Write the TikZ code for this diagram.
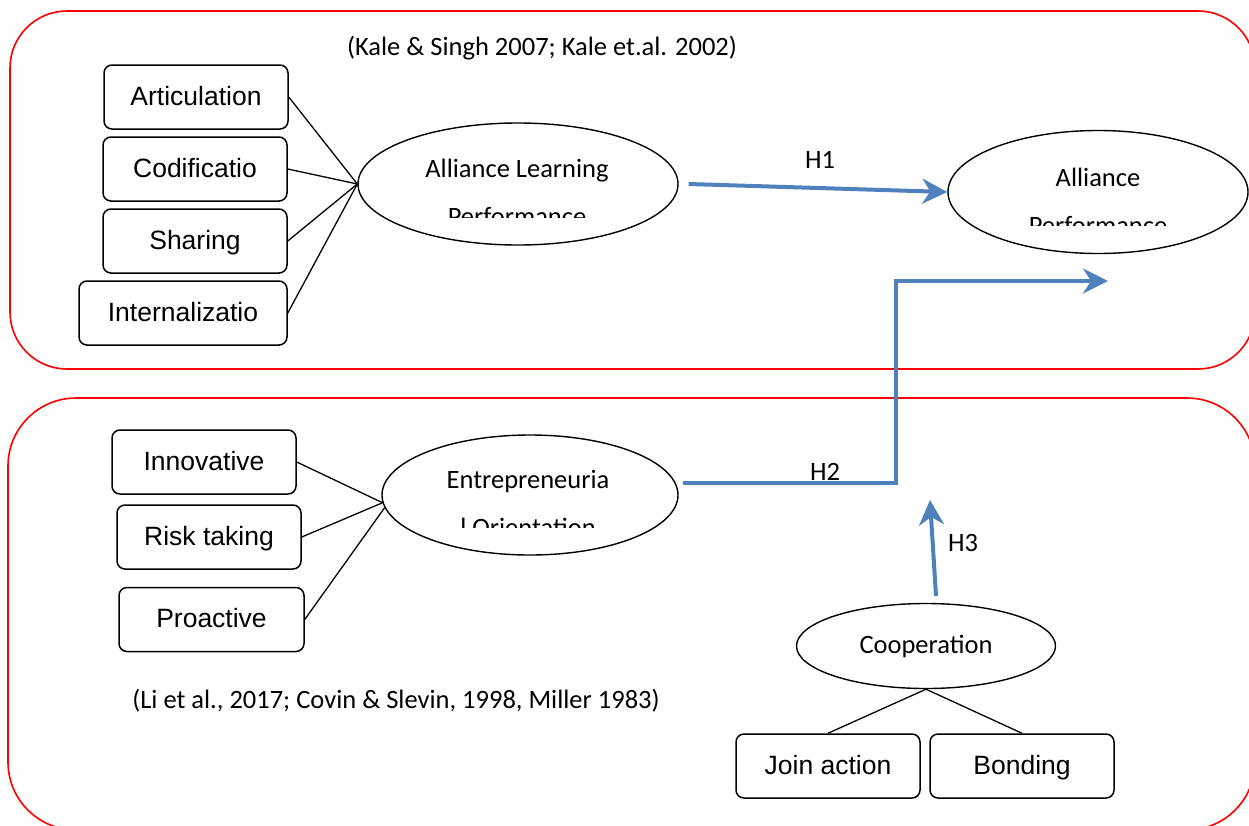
\documentclass[tikz,border=0pt]{standalone}
\usepackage{fontspec}
\setmainfont{Carlito}
\newfontfamily\arialfont{Liberation Sans}
\usetikzlibrary{shapes.geometric,arrows.meta,positioning}
\definecolor{hblue}{HTML}{4F81BD}

\begin{document}
\begin{tikzpicture}[x=1pt, y=-1pt,
  every node/.style={font=\fontsize{26.5}{32}\selectfont},
  frame/.style={draw=red, line width=1.6pt},
  indic/.style={draw, line width=1.5pt, rounded corners=8pt, inner sep=0pt, minimum width=184pt, minimum height=64pt, text height=19pt, text depth=3pt, font=\arialfont\fontsize{26.5}{30}\selectfont},
  latent/.style={draw, ellipse, line width=1.4pt, inner sep=0pt},
  link/.style={line width=1.3pt},
  hyp/.style={draw=hblue, line width=4pt, -{Stealth[length=25pt,width=25pt,inset=8pt]}}]
\useasboundingbox (0,0) rectangle (1249,825);
\draw[frame, rounded corners=57pt] (10,11) rectangle (1255,369);
\draw[frame, rounded corners=68pt] (8,398) rectangle (1255,830);
\coordinate (h2k) at (896,281);
\coordinate (h2e) at (1108,281);
\coordinate (h3s) at (936,596);
\coordinate (h3e) at (930,500);
\node[indic] (art) at (196,97) {Articulation};
\node[indic] (cod) at (195,169) {Codificatio};
\node[indic] (sha) at (195,241) {Sharing};
\node[indic, minimum width=208pt] (int) at (183,313) {Internalizatio};
\node[indic] (inn) at (204,462) {Innovative};
\node[indic] (risk) at (209,537) {Risk taking};
\node[indic, minimum width=185pt] (pro) at (211.5,619.5) {Proactive};
\node[indic] (join) at (828,766) {Join action};
\node[indic] (bond) at (1022,766) {Bonding};
\node[latent, minimum width=320pt, minimum height=122pt] (alp) at (518,184) {};
\node[latent, minimum width=300pt, minimum height=123pt] (ap) at (1098,192) {};
\node[latent, minimum width=296pt, minimum height=120pt] (eo) at (530,495) {};
\node[latent, minimum width=259pt, minimum height=85pt] (coop) at (926,646) {Cooperation};
\node[anchor=base] (alpt) at (517,177) {Alliance Learning};
\node[anchor=base] (apt) at (1098,186) {Alliance};
\node[anchor=base] (eot) at (528,488) {Entrepreneuria};
\begin{scope}
\clip (400,190) rectangle (640,217) (950,190) rectangle (1240,225);
\node[anchor=base] (alpb) at (517,225) {Performance};
\node[anchor=base] (apb) at (1098,234) {Performance};
\end{scope}
\begin{scope}
\clip (400,500) rectangle (660,527);
\node[anchor=base] (eob) at (528,536) {l Orientation};
\end{scope}
\node[anchor=base] (kale) at (542,55) {(Kale \& Singh 2007; Kale et.al. 2002)};
\node[anchor=base] (li) at (396,708) {(Li et al., 2017; Covin \& Slevin, 1998, Miller 1983)};
\foreach \n in {art,cod,sha,int}
  \draw[link] (\n.east) -- (alp.west);
\foreach \n in {inn,risk}
  \draw[link] (\n.east) -- (eo.183);
\draw[link] (pro.east) -- (eo.185);
\draw[link] (join.north) -- (coop.south);
\draw[link] (bond.north) -- (coop.south);
\draw[hyp] ([xshift=10pt]alp.east) -- (ap.west);
\draw[hyp] ([xshift=4pt,yshift=12pt]eo.east) -| (h2k) -- (h2e);
\draw[hyp] (h3s) -- (h3e);
\node[anchor=base] (h1) at (820,168) {H1};
\node[anchor=base] (h2) at (825,480) {H2};
\node[anchor=base] (h3) at (963,551) {H3};
\end{tikzpicture}
\end{document}
